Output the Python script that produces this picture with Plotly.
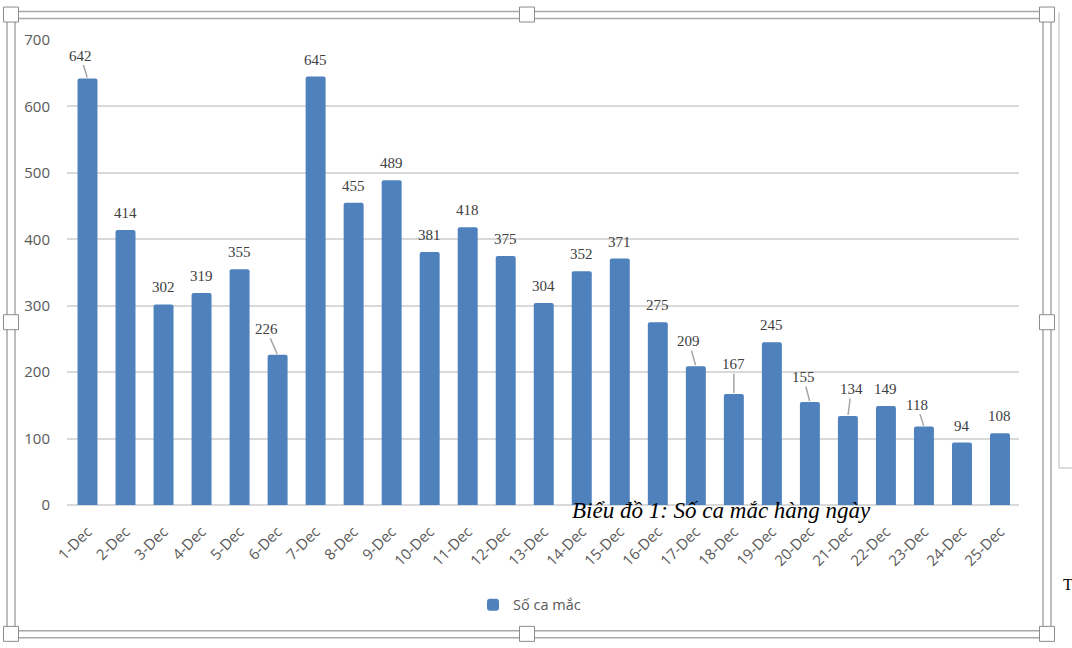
import plotly.graph_objects as go

# ---- data ----
days = [f"{d}-Dec" for d in range(1, 26)]
cases = [642, 414, 302, 319, 355, 226, 645, 455, 489, 381, 418, 375, 304,
         352, 371, 275, 209, 167, 245, 155, 134, 149, 118, 94, 108]
series_name = "Số ca mắc"
caption = "Biểu đồ 1: Số ca mắc hàng ngày"

# ---- layout geometry (pixels) ----
W, H = 1072, 648
PL, PR, PT, PB = 67, 1019, 39.5, 505   # plot area


def px(x):
    return (x - PL) / (PR - PL)


def py(y):
    return (PB - y) / (PB - PT)


# label offsets (pixels) for labels with leader lines, keyed by index
leader = {0: (-7, -23), 5: (-11.5, -26), 16: (-7, -25), 17: (0, -30),
          19: (-6.5, -25), 20: (3.5, -27), 22: (-7, -22)}

fig = go.Figure()
fig.add_trace(go.Bar(
    x=days, y=cases, name=series_name,
    marker=dict(color="#4f81bd", cornerradius=2, line=dict(width=0)),
    showlegend=True,
))

annotations = []
lab_font = dict(family="Liberation Serif, Times New Roman, serif", size=15, color="#404040")
for i, (d, v) in enumerate(zip(days, cases)):
    if i in leader:
        dx, dy = leader[i]
        annotations.append(dict(x=d, y=v, xref="x", yref="y", text=str(v),
                                showarrow=True, arrowhead=0, arrowwidth=1.5,
                                arrowcolor="#a6a6a6", ax=dx, ay=dy, standoff=1,
                                font=lab_font))
    else:
        annotations.append(dict(x=d, y=v, xref="x", yref="y", text=str(v),
                                showarrow=False, yshift=17, font=lab_font))

annotations.append(dict(x=px(721), y=py(511), xref="paper", yref="paper",
                        text="<i>" + caption + "</i>", showarrow=False,
                        font=dict(family="Liberation Serif, Times New Roman, serif",
                                  size=23, color="#000000"),
                        xanchor="center", yanchor="middle"))
annotations.append(dict(x=px(1061), y=py(585), xref="paper", yref="paper",
                        text="T", showarrow=False,
                        font=dict(family="Liberation Serif, serif", size=16, color="#000"),
                        xanchor="left", yanchor="middle"))

shapes = []
fc = "#a8a8a8"
# double frame
for (x0, y0, x1, y1) in [(7, 11, 1051, 638), (15, 18, 1043, 631)]:
    shapes.append(dict(type="rect", xref="paper", yref="paper",
                       x0=px(x0), x1=px(x1), y0=py(y0), y1=py(y1),
                       line=dict(color=fc, width=1.5), fillcolor="rgba(0,0,0,0)"))
# side element on the right
shapes.append(dict(type="line", xref="paper", yref="paper",
                   x0=px(1059), x1=px(1059), y0=py(12), y1=py(468),
                   line=dict(color="#d0d0d0", width=1.5)))
shapes.append(dict(type="line", xref="paper", yref="paper",
                   x0=px(1059), x1=px(1072), y0=py(468), y1=py(468),
                   line=dict(color="#d0d0d0", width=1.5)))
# handles
for (cx, cy) in [(11, 14), (527, 14), (1047, 14), (11, 322), (1047, 322),
                 (11, 634), (527, 634), (1047, 634)]:
    shapes.append(dict(type="rect", xref="paper", yref="paper",
                       x0=px(cx - 7.5), x1=px(cx + 7.5), y0=py(cy + 7.5), y1=py(cy - 7.5),
                       line=dict(color="#8c8c8c", width=1), fillcolor="#ffffff"))

axis_font = dict(family="Open Sans, Lato, sans-serif", size=15, color="#595959")

fig.update_layout(
    width=W, height=H,
    margin=dict(l=PL, r=W - PR, t=PT, b=H - PB),
    paper_bgcolor="#ffffff", plot_bgcolor="#ffffff",
    bargap=0.475,
    xaxis=dict(tickangle=-45, tickfont=axis_font, showgrid=False, showline=False,
               zeroline=False, ticks="", ticklabelstandoff=14),
    yaxis=dict(range=[0, 700], dtick=100, tickfont=axis_font, showgrid=True,
               gridcolor="#d9d9d9", gridwidth=2, zeroline=True, zerolinecolor="#d9d9d9",
               zerolinewidth=2, showline=False, ticks="", ticklabelstandoff=16),
    legend=dict(orientation="h", x=px(473), y=py(589), xanchor="left", yanchor="top",
                font=dict(family="Open Sans, Lato, sans-serif", size=14.5, color="#595959"),
                itemwidth=30, bgcolor="rgba(0,0,0,0)"),
    annotations=annotations,
    shapes=shapes,
)

fig.write_html("out.html")
